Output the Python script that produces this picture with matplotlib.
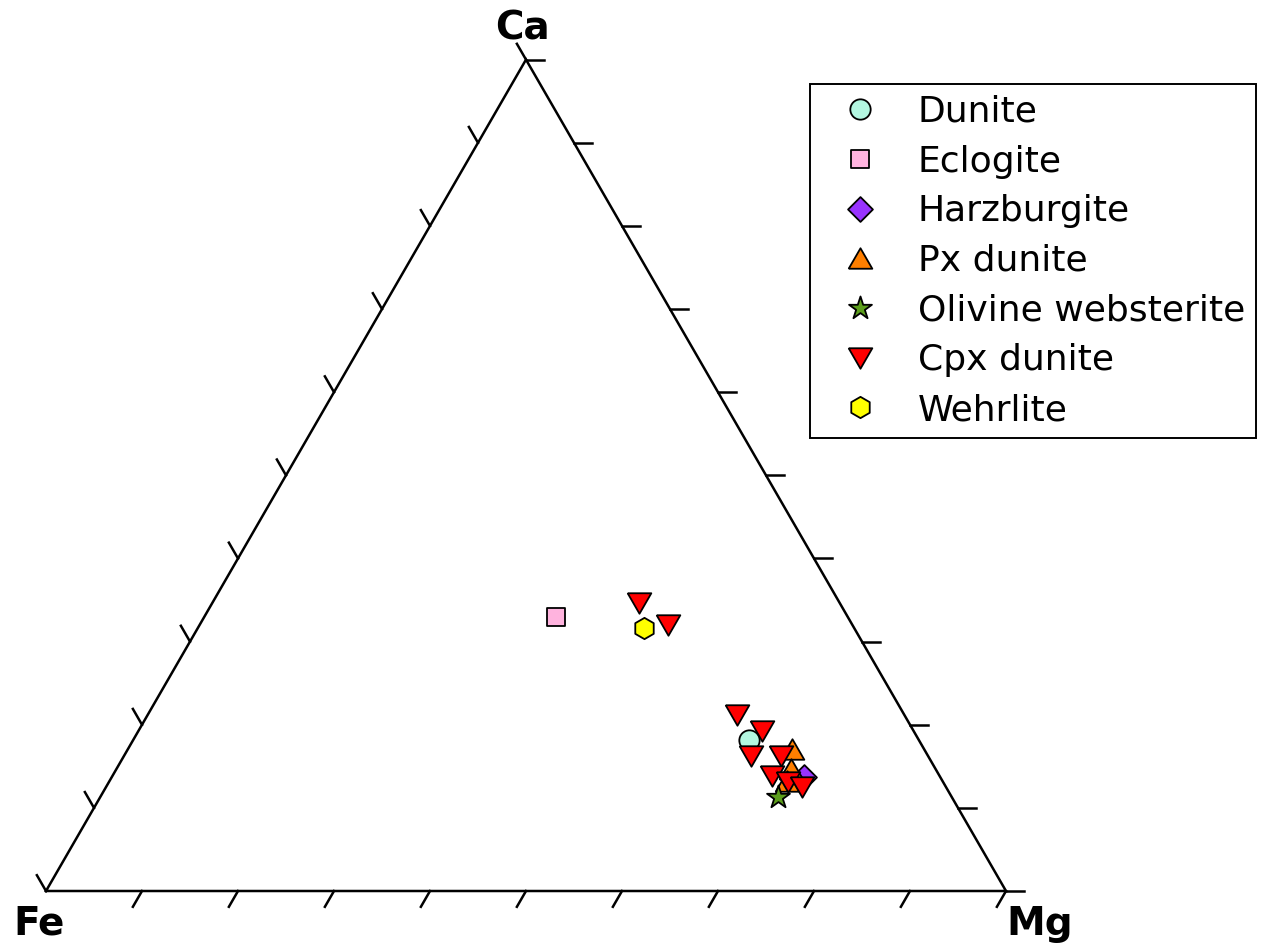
import numpy as np
import matplotlib.pyplot as plt

# Mg and Ca fractions for each sample (Fe = 1 - Mg - Ca)
dunite_mg = [0.641]
dunite_ca = [0.182]

eclogite_mg = [0.367]
eclogite_ca = [0.329]

harzburgite_mg = [0.721]
harzburgite_ca = [0.137]

px_dunite_mg = [0.692, 0.703, 0.706]
px_dunite_ca = [0.171, 0.147, 0.132]

ol_websterite_mg = [0.706]
ol_websterite_ca = [0.113]

cpx_dunite_mg = [0.445, 0.488, 0.614, 0.650, 0.653, 0.685, 0.687, 0.707, 0.725]
cpx_dunite_ca = [0.346, 0.320, 0.2115, 0.192, 0.162, 0.162, 0.138, 0.131, 0.125]

wehrlite_mg = [0.465]
wehrlite_ca = [0.316]

tick_values = np.linspace(0, 1, 11)

H = np.sqrt(3) / 2
TICK = 0.019

# equilateral triangles (wider than tall) for the triangle markers
tri_down = [(-1, H), (1, H), (0, -H), (-1, H)]
tri_up = [(-1, -H), (1, -H), (0, H), (-1, -H)]


def project(mg, ca):
    mg = np.asarray(mg, dtype=float)
    ca = np.asarray(ca, dtype=float)
    return mg + ca / 2, ca * H


def draw_frame(ax):
    ax.plot([0, 1, 0.5, 0], [0, 0, H, 0], color="black", lw=1.8,
            solid_joinstyle="miter", zorder=1)
    for t in tick_values:
        # right edge: horizontal ticks
        x, y = project(1 - t, t)
        ax.plot([x, x + TICK], [y, y], color="black", lw=1.8, zorder=1)
        # left edge: ticks parallel to the right edge
        x, y = project(0, t)
        ax.plot([x, x - TICK / 2], [y, y + TICK * H], color="black", lw=1.8, zorder=1)
        # bottom edge: ticks parallel to the left edge
        if t > 0:
            x, y = project(t, 0)
            ax.plot([x, x - TICK / 2], [y, y - TICK * H], color="black", lw=1.8, zorder=1)


fig = plt.figure(figsize=(12.64, 9.47), dpi=100)
ax = fig.add_axes([0, 0, 1, 1])
ax.set_xlim(-46 / 960, (1264 - 46) / 960)
ax.set_ylim((891 - 947) / 960, 891 / 960)
ax.axis("off")

draw_frame(ax)

groups = [
    ("Dunite", dunite_mg, dunite_ca, "o", "#b3f7e1", 215),
    ("Eclogite", eclogite_mg, eclogite_ca, "s", "#ffb3de", 160),
    ("Harzburgite", harzburgite_mg, harzburgite_ca, "D", "#9933ff", 160),
    ("Px dunite", px_dunite_mg, px_dunite_ca, tri_up, "#ff7f00", 290),
    ("Olivine websterite", ol_websterite_mg, ol_websterite_ca, "*", "#5c9e1c", 300),
    ("Cpx dunite", cpx_dunite_mg, cpx_dunite_ca, tri_down, "#ff0000", 290),
    ("Wehrlite", wehrlite_mg, wehrlite_ca, "h", "#ffff00", 235),
]
for i, (name, mg, ca, marker, color, size) in enumerate(groups):
    x, y = project(mg, ca)
    ax.scatter(x, y, s=size, marker=marker, c=color, edgecolors="black",
               linewidths=1.3, label=name, zorder=3 + i)

ax.text(0.496, 0.8875, "Ca", fontsize=28, fontweight="bold", ha="center", va="baseline")
ax.text(-0.034, -0.0458, "Fe", fontsize=28, fontweight="bold", ha="left", va="baseline")
ax.text(1.0, -0.0458, "Mg", fontsize=28, fontweight="bold", ha="left", va="baseline")

leg = ax.legend(loc="upper left", bbox_to_anchor=(810 / 1264, 1 - 84 / 947),
                bbox_transform=fig.transFigure, borderaxespad=0, fontsize=26,
                frameon=True, fancybox=False, edgecolor="black", framealpha=1,
                scatterpoints=1, scatteryoffsets=[0.5], handlelength=2.16,
                handletextpad=0.53, borderpad=0.3, labelspacing=0.435)
leg.get_frame().set_linewidth(1.4)

fig.savefig("out.png", dpi=100)
plt.close(fig)
